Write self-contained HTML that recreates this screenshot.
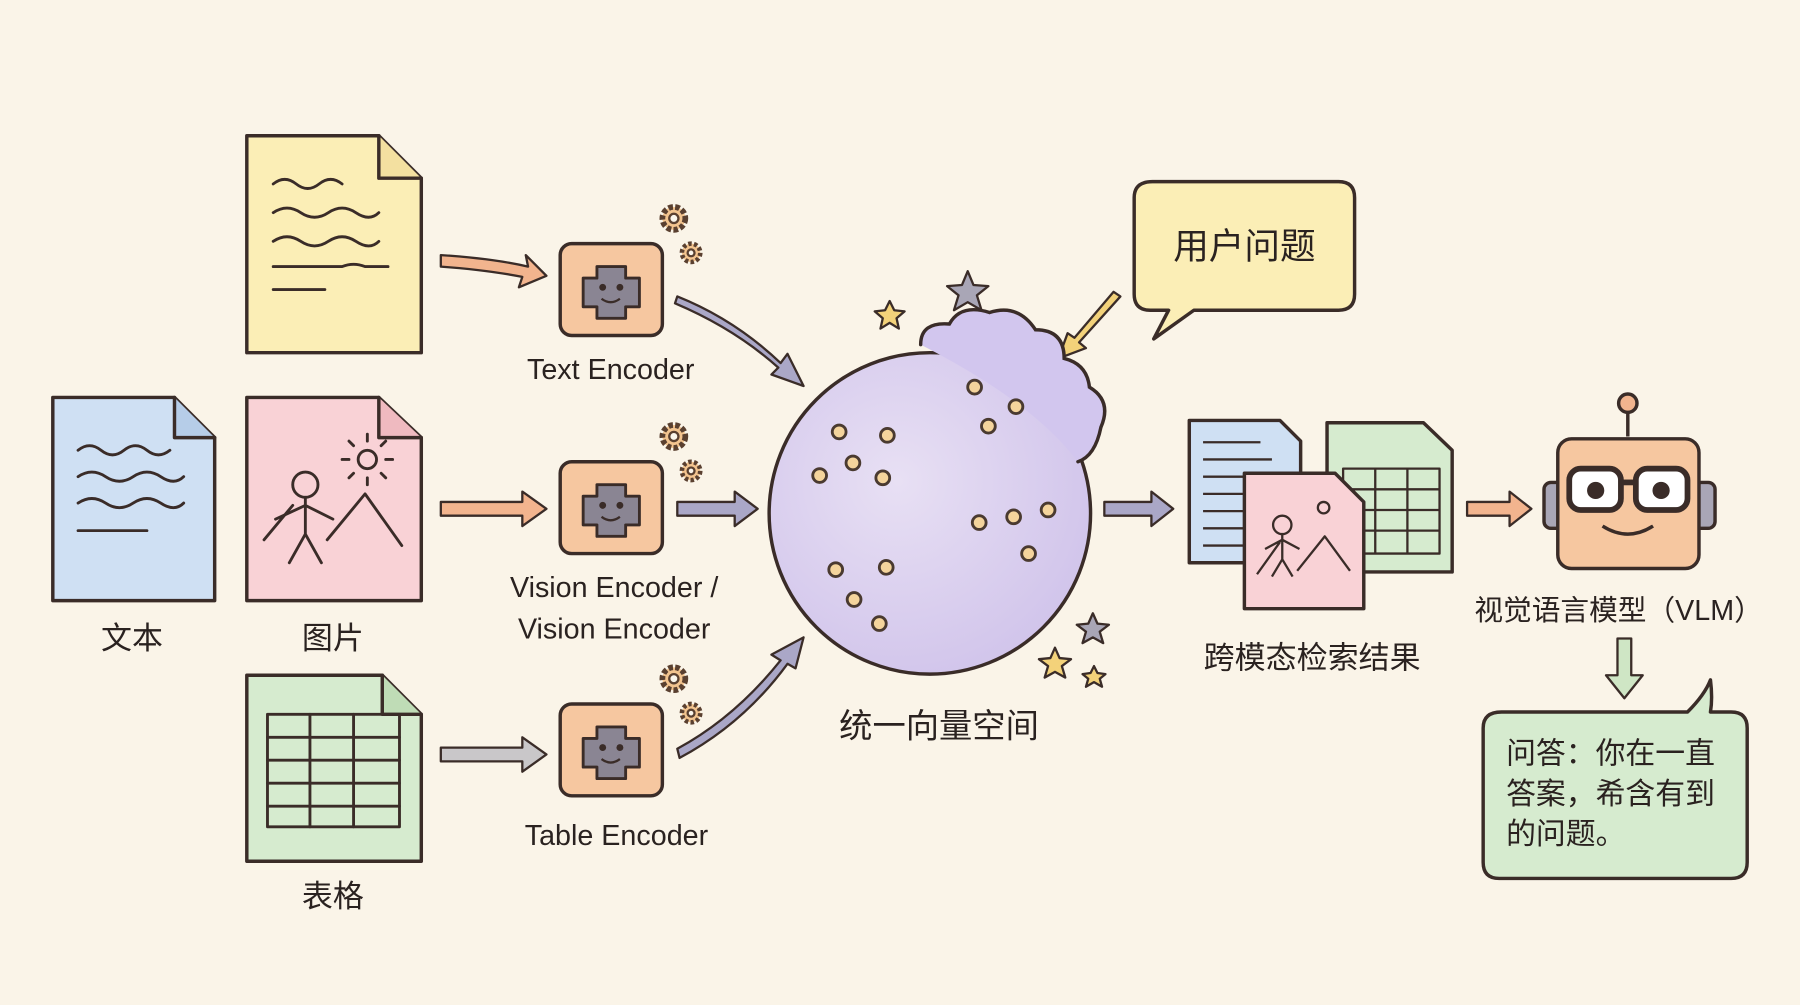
<!DOCTYPE html>
<html><head><meta charset="utf-8"><style>
html,body{margin:0;padding:0;background:#faf4e8;}
svg{display:block}
text{font-family:"Liberation Sans","Noto Sans CJK SC",sans-serif;fill:#2a2220}
</style></head><body>
<svg width="1800" height="1005" viewBox="0 0 1568 875" xmlns="http://www.w3.org/2000/svg">
<defs>
<radialGradient id="sph" cx="0.4" cy="0.4" r="0.7"><stop offset="0" stop-color="#e8e0f4"/><stop offset="1" stop-color="#cfc2ea"/></radialGradient>
</defs>
<rect width="1568" height="875" fill="#faf4e8"/>
<g stroke="#3a2c28" stroke-width="3" stroke-linejoin="round" stroke-linecap="round">
<path d="M215 118 H330 L367 155 V307 H215 Z" fill="#fbeeb6"/>
<path d="M330 118 V155 H367" fill="#f3e0a0"/>
<g fill="none" stroke-width="2.5"><path d="M238 160 q10-8 20 0 t20 0 t20 0"/><path d="M238 185 q12-8 24 0 t24 0 t24 0 t20 0"/><path d="M238 210 q12-8 24 0 t24 0 t24 0 t20 0"/><path d="M238 232 h60 q10-4 20 0 h20"/><path d="M238 252 h45"/></g>
<path d="M46 346 H152 L187 381 V523 H46 Z" fill="#cfe0f3"/>
<path d="M152 346 V381 H187" fill="#b6cde8"/>
<g fill="none" stroke-width="2.5"><path d="M68 392 q10-8 20 0 t20 0 t20 0 t20 0"/><path d="M68 415 q12-8 24 0 t24 0 t24 0 t20 0"/><path d="M68 438 q12-8 24 0 t24 0 t24 0 t20 0"/><path d="M68 462 h60"/></g>
<path d="M215 346 H330 L367 381 V523 H215 Z" fill="#f9d2d6"/>
<path d="M330 346 V381 H367" fill="#efbac0"/>
<g fill="none" stroke-width="2.5"><circle cx="266" cy="422" r="11"/><path d="M266 433 V465 M240 452 L266 440 L290 452 M266 465 L252 490 M266 465 L280 490"/><path d="M230 470 L255 440 M285 470 L318 430 L350 475"/><circle cx="320" cy="400" r="8"/><path d="M320 384v-6 M320 416v6 M304 400h-6 M336 400h6 M308 388l-4-4 M332 388l4-4 M308 412l-4 4 M332 412l4 4"/></g>
<path d="M215 588 H333 L367 622 V750 H215 Z" fill="#d6ebcf"/>
<path d="M333 588 V622 H367" fill="#bfdcb6"/>
<g fill="none" stroke-width="2.5"><rect x="233" y="622" width="115" height="98"/><path d="M233 642h115 M233 662h115 M233 682h115 M233 702h115 M270 622v98 M308 622v98"/></g>
</g>
<g font-size="27" text-anchor="middle"><text x="115" y="565">文本</text><text x="290" y="565">图片</text><text x="290" y="790">表格</text></g>

<g id="enc">
<rect x="488" y="212" width="89" height="80" rx="10" fill="#f6c7a0" stroke="#3a2c28" stroke-width="3"/>
<path d="M520 232 h25 v10 h12 v25 h-12 v10 h-25 v-10 h-12 v-25 h12 z" fill="#8a8593" stroke="#3a2c28" stroke-width="2.5" stroke-linejoin="round"/>
<circle cx="525" cy="250" r="3" fill="#3a2c28"/><circle cx="540" cy="250" r="3" fill="#3a2c28"/>
<path d="M524 260 q8 6 16 0" fill="none" stroke="#3a2c28" stroke-width="2"/>
<g fill="#f3c48f" stroke="#5a4030" stroke-width="2"><circle cx="587" cy="190" r="10" stroke-dasharray="4 2" stroke-width="5"/><circle cx="587" cy="190" r="4" fill="#fbf6ec"/><circle cx="602" cy="220" r="8" stroke-dasharray="3 2" stroke-width="4"/><circle cx="602" cy="220" r="3" fill="#fbf6ec"/></g>
</g>
<use href="#enc" y="190"/>
<use href="#enc" y="401"/>
<g font-size="25" text-anchor="middle"><text x="532" y="330">Text Encoder</text><text x="535" y="520">Vision Encoder /</text><text x="535" y="556">Vision Encoder</text><text x="537" y="736">Table Encoder</text></g>

<g stroke="#3a2c28" stroke-width="2" stroke-linejoin="round">
<path d="M384 222 Q430 225 460 232 L458 222 L476 240 L452 250 L455 241 Q425 235 384 232 Z" fill="#f2b48e"/>
<path d="M384 437 H455 V428 L476 443 L455 458 V449 H384 Z" fill="#f2b48e"/>
<path d="M384 651 H455 V642 L476 657 L455 672 V663 H384 Z" fill="#c9c7c9"/>
<path d="M590 437 H640 V428 L660 443 L640 458 V449 H590 Z" fill="#aaa7c7"/>
<path d="M962 437 H1003 V428 L1022 443 L1003 458 V449 H962 Z" fill="#aaa7c7"/>
<path d="M1278 437 H1315 V428 L1334 443 L1315 458 V449 H1278 Z" fill="#f2b48e"/>
<path d="M590 258 Q640 278 680 316 L686 308 L700 336 L672 326 L678 320 Q640 286 588 264 Z" fill="#aaa7c7"/>
<path d="M590 652 Q640 625 680 575 L672 570 L700 555 L693 582 L686 578 Q648 630 592 660 Z" fill="#aaa7c7"/>
<path d="M976 258 L940 298 L946 303 L922 312 L930 290 L936 294 L970 254 Z" fill="#f3d27a"/>
<path d="M1409 556 H1421 V588 H1431 L1415 608 L1399 588 H1409 Z" fill="#cfe6c5"/>
</g>

<circle cx="810" cy="447" r="140" fill="url(#sph)" stroke="#3a2c28" stroke-width="3"/>
<path d="M802 300 q0-20 25-18 q10-18 35-10 q25-8 40 15 q25 0 25 25 q20 5 22 25 q20 12 10 35 q-5 25 -20 30 Q900 350 802 300 Z" fill="#d2c6ee" stroke="none"/>
<path d="M802 300 q0-20 25-18 q10-18 35-10 q25-8 40 15 q25 0 25 25 q20 5 22 25 q20 12 10 35 q-5 25 -20 30" fill="none" stroke="#3a2c28" stroke-width="3" stroke-linecap="round"/>
<g fill="#f4d49c" stroke="#4a3a30" stroke-width="2.5">
<circle cx="731" cy="376" r="6"/><circle cx="773" cy="379" r="6"/><circle cx="743" cy="403" r="6"/><circle cx="714" cy="414" r="6"/><circle cx="769" cy="416" r="6"/>
<circle cx="849" cy="337" r="6"/><circle cx="885" cy="354" r="6"/><circle cx="861" cy="371" r="6"/>
<circle cx="853" cy="455" r="6"/><circle cx="883" cy="450" r="6"/><circle cx="913" cy="444" r="6"/><circle cx="896" cy="482" r="6"/>
<circle cx="728" cy="496" r="6"/><circle cx="772" cy="494" r="6"/><circle cx="744" cy="522" r="6"/><circle cx="766" cy="543" r="6"/>
</g>
<g stroke="#3a2c28" stroke-width="2" stroke-linejoin="round">
<path d="M843 236 l5 12 13 1 -10 8 4 13 -12-7 -12 7 4-13 -10-8 13-1z" fill="#a9a6b6"/>
<path d="M775 262 l4 8 9 1 -7 6 2 9 -8-5 -8 5 2-9 -7-6 9-1z" fill="#f3d27a"/>
<path d="M952 534 l4 9 10 1 -8 6 3 10 -9-5 -9 5 3-10 -8-6 10-1z" fill="#a9a6b6"/>
<path d="M919 564 l4 9 10 1 -8 6 3 10 -9-5 -9 5 3-10 -8-6 10-1z" fill="#f3d27a"/>
<path d="M953 580 l3 6 7 1 -5 4 2 7 -7-4 -7 4 2-7 -5-4 7-1z" fill="#f3d27a"/>
</g>
<text x="818" y="642" font-size="29" text-anchor="middle">统一向量空间</text>

<path d="M1004 158 H1166 Q1180 158 1180 172 V256 Q1180 270 1166 270 H1040 L1005 295 L1018 270 H1002 Q988 270 988 256 V172 Q988 158 1004 158 Z" fill="#fbeeb6" stroke="#3a2c28" stroke-width="3" stroke-linejoin="round"/>
<text x="1084" y="225" font-size="31" text-anchor="middle">用户问题</text>

<g stroke="#3a2c28" stroke-width="3" stroke-linejoin="round">
<path d="M1036 366 H1115 L1133 384 V490 H1036 Z" fill="#cfe0f3"/>
<g stroke-width="2"><path d="M1048 385h50 M1048 400h60 M1048 415h45 M1048 430h60 M1048 445h40 M1048 460h55 M1048 475h40"/></g>
<path d="M1156 368 H1240 L1265 392 V498 H1156 Z" fill="#d6ebcf"/>
<g fill="none" stroke-width="2"><rect x="1170" y="408" width="84" height="74"/><path d="M1170 426h84 M1170 444h84 M1170 462h84 M1198 408v74 M1226 408v74"/></g>
<path d="M1084 412 H1163 L1188 437 V530 H1084 Z" fill="#f9d2d6"/>
<g fill="none" stroke-width="2"><circle cx="1117" cy="457" r="8"/><path d="M1117 465v22 M1102 478l15-8 15 8 M1117 487l-9 15 M1117 487l9 15 M1095 500l20-28 M1130 497l24-30 22 30"/><circle cx="1153" cy="442" r="5"/></g>
</g>
<text x="1143" y="582" font-size="27" text-anchor="middle">跨模态检索结果</text>

<g stroke="#3a2c28" stroke-width="3" stroke-linejoin="round">
<path d="M1418 380 V360" fill="none"/><circle cx="1418" cy="351" r="8" fill="#f2b48e"/>
<rect x="1345" y="420" width="18" height="40" rx="6" fill="#a9a6b6"/><rect x="1476" y="420" width="18" height="40" rx="6" fill="#a9a6b6"/>
<rect x="1357" y="382" width="123" height="113" rx="12" fill="#f6c7a0"/>
<rect x="1367" y="408" width="45" height="36" rx="10" fill="#fff" stroke-width="5"/><rect x="1425" y="408" width="45" height="36" rx="10" fill="#fff" stroke-width="5"/>
<path d="M1412 420h13" fill="none" stroke-width="5"/>
<circle cx="1390" cy="427" r="6" fill="#3a2c28"/><circle cx="1447" cy="427" r="6" fill="#3a2c28"/>
<path d="M1396 458 q22 14 44 0" fill="none"/>
</g>
<text x="1410" y="540" font-size="25" text-anchor="middle">视觉语言模型（VLM）</text>

<path d="M1308 620 H1470 Q1485 605 1490 592 Q1492 608 1490 620 H1508 Q1522 620 1522 634 V751 Q1522 765 1508 765 H1306 Q1292 765 1292 751 V634 Q1292 620 1308 620 Z" fill="#d6ebcf" stroke="#3a2c28" stroke-width="3" stroke-linejoin="round"/>
<g font-size="26"><text x="1312" y="665">问答：你在一直</text><text x="1312" y="700">答案，希含有到</text><text x="1312" y="735">的问题。</text></g>
</svg>
</body></html>
